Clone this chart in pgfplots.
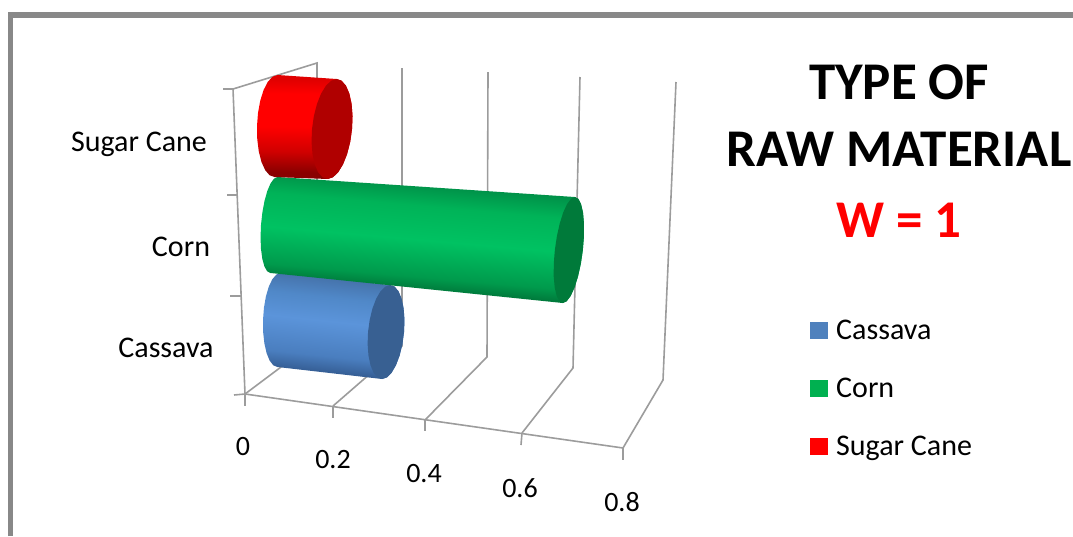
\documentclass[border=0pt]{standalone}
\usepackage{pgfplots}
\usepackage{pgfplotstable}
\usepackage{fontspec}
\setmainfont{Carlito}
\pgfplotsset{compat=1.18}
\definecolor{gridc}{HTML}{9C9C9C}
\definecolor{framec}{HTML}{888888}
\definecolor{ra}{HTML}{8A0000}\definecolor{rb}{HTML}{D00000}\definecolor{rc}{HTML}{FF0000}\definecolor{rd}{HTML}{E00000}
\definecolor{ga}{HTML}{00602E}\definecolor{gb}{HTML}{009A4C}\definecolor{gc}{HTML}{00C262}\definecolor{gd}{HTML}{00B358}\definecolor{ge}{HTML}{008A45}
\definecolor{ba}{HTML}{345C92}\definecolor{bb}{HTML}{4A7EBF}\definecolor{bc}{HTML}{5B94DA}\definecolor{bd}{HTML}{5088C8}\definecolor{be}{HTML}{4572AA}
\pgfdeclareverticalshading{cylred}{100bp}{
  color(0bp)=(ra);color(28bp)=(ra);color(38bp)=(rb);color(50bp)=(rc);color(66bp)=(rc);color(73bp)=(rd);color(100bp)=(rd)}
\pgfdeclareverticalshading{cylgreen}{100bp}{
  color(0bp)=(ga);color(29bp)=(ga);color(37bp)=(gb);color(50bp)=(gc);color(62bp)=(gd);color(71bp)=(ge);color(100bp)=(ge)}
\pgfdeclareverticalshading{cylblue}{100bp}{
  color(0bp)=(ba);color(28bp)=(ba);color(36bp)=(bb);color(52bp)=(bc);color(63bp)=(bd);color(72bp)=(be);color(100bp)=(be)}
% chart values
\pgfplotstableread{
row value
Cassava 0.24
Corn 0.63
Sugar 0.13
}\valtab
% outline of a cylinder: e = 0 at the base, 1 at the end; a, b run round the section
\pgfplotstableread{
e a b
0 -1 0
0 -.966 -.259
0 -.866 -.5
0 -.707 -.707
0 -.5 -.866
0 -.259 -.966
0 0 -1
0 .259 -.966
0 .5 -.866
0 .707 -.707
0 .866 -.5
0 .966 -.259
0 1 0
1 1 0
1 .966 .259
1 .866 .5
1 .707 .707
1 .5 .866
1 .259 .966
1 0 1
1 -.259 .966
1 -.5 .866
1 -.707 .707
1 -.866 .5
1 -.966 .259
1 -1 0
}\bodytab
\pgfplotstableread{
e a b
1 -1 0
1 -.966 .259
1 -.866 .5
1 -.707 .707
1 -.5 .866
1 -.259 .966
1 0 1
1 .259 .966
1 .5 .866
1 .707 .707
1 .866 .5
1 .966 .259
1 1 0
1 .966 -.259
1 .866 -.5
1 .707 -.707
1 .5 -.866
1 .259 -.966
1 0 -1
1 -.259 -.966
1 -.5 -.866
1 -.707 -.707
1 -.866 -.5
1 -.966 -.259
}\captab
\newcommand\X{\xL+\kx*\val*\thisrow{e}+\thisrow{b}*(\hwL+(\hwR-\hwL)*\thisrow{e})-\thisrow{a}*(\tlL+(\tlR-\tlL)*\thisrow{e})}
\newcommand\Y{\yL+\ky*\val*\thisrow{e}+\thisrow{a}*(\hhL+(\hhR-\hhL)*\thisrow{e})}
\newcommand\gl[1]{\addplot[gridc,line width=1.6pt,forget plot] coordinates {#1};}
% #1 row of values, #2 shading, #3 cap, #4 shading angle
\newcommand\cyl[4]{%
  \pgfplotstablegetelem{#1}{value}\of\valtab
  \let\val\pgfplotsretval
  \addplot[draw=none,shading=#2,shading angle=#4,forget plot]
    table[x expr=\X,y expr=\Y]{\bodytab} --cycle;
  \addplot[draw=none,fill=#3,forget plot]
    table[x expr=\X,y expr=\Y]{\captab} --cycle;
}
\newcommand\fs[1]{\fontsize{#1}{#1}\selectfont}
\begin{document}
\begin{tikzpicture}
\useasboundingbox (0,0) rectangle (1073pt,536pt);
\begin{axis}[
  scale only axis,width=1073pt,height=536pt,
  xmin=0,xmax=1073,ymin=0,ymax=536,y dir=reverse,
  axis lines=none,clip=false,
  legend style={draw=none,fill=none,at={(axis cs:810,320)},anchor=north west,
    font=\fs{30},row sep=37pt,inner sep=0pt,
    /tikz/every even column/.append style={column sep=0pt},
    nodes={inner sep=0pt}},
  legend cell align=left,
  legend image code/.code={\fill[#1,draw=none] (0pt,-8pt) rectangle (18pt,9pt);},
]
\addlegendimage{fill={rgb,255:red,79;green,129;blue,189}}
\addlegendentry{\hspace{8pt}Cassava}
\addlegendimage{fill={rgb,255:red,0;green,176;blue,80}}
\addlegendentry{\hspace{8pt}Corn}
\addlegendimage{fill=red}
\addlegendentry{\hspace{8pt}Sugar Cane}
% frame
\addplot[framec,line width=5.5pt,forget plot] coordinates {(10.3,536) (10.3,15) (1073,15)};
% walls, floor and ticks
\gl{(223,89) (233,89) (317,63) (317,340) (245,394)}
\gl{(233,89) (245,394)}
\gl{(227,195) (238,195)}
\gl{(230,296) (241,296)}
\gl{(234,395) (245,394) (623,448)}
\gl{(245,394) (245,406)}
\gl{(333,406) (333,418)}
\gl{(425,420) (425,431)}
\gl{(522,433) (521,445)}
\gl{(623,448) (623,460)}
\gl{(333,406) (402,346) (402,68)}
\gl{(425,420) (487,357) (488,72)}
\gl{(522,433) (573,368) (580,77)}
\gl{(623,448) (663,380) (676,82)}
% Cassava
\def\xL{279}\def\yL{320}\def\kx{446}\def\ky{50}
\def\hwL{16}\def\hwR{18}\def\hhL{47}\def\hhR{47}\def\tlL{1.5}\def\tlR{4}
\cyl{0}{cylblue}{{rgb,255:red,56;green,96;blue,146}}{-6}
% Corn
\def\xL{274}\def\yL{225}\def\kx{468}\def\ky{39.7}
\def\hwL{13}\def\hwR{14}\def\hhL{48}\def\hhR{53}\def\tlL{3.5}\def\tlR{6}
\cyl{1}{cylgreen}{{rgb,255:red,0;green,122;blue,58}}{-5}
% Sugar Cane
\def\xL{276}\def\yL{126}\def\kx{431}\def\ky{23}
\def\hwL{19}\def\hwR{20}\def\hhL{51}\def\hhR{50}\def\tlL{1.5}\def\tlR{4.5}
\cyl{2}{cylred}{{rgb,255:red,176;green,0;blue,0}}{-1}
% category labels
\node[font=\fs{30}] at (axis cs:139,144) {Sugar Cane};
\node[font=\fs{30}] at (axis cs:181,247) {Corn};
\node[font=\fs{30}] at (axis cs:166,348) {Cassava};
% value labels
\node[font=\fs{28}] at (axis cs:243,447) {0};
\node[font=\fs{28}] at (axis cs:333,460) {0.2};
\node[font=\fs{28}] at (axis cs:424,474) {0.4};
\node[font=\fs{28}] at (axis cs:520,488) {0.6};
\node[font=\fs{28}] at (axis cs:622,502) {0.8};
% title
\node[font=\fs{53}\bfseries,inner sep=0pt] at (axis cs:899,82) {TYPE OF};
\node[font=\fs{53}\bfseries,inner sep=0pt] at (axis cs:899,149) {RAW MATERIAL};
\node[font=\fs{53}\bfseries,text=red,inner sep=0pt] at (axis cs:899,220) {W = 1};
\end{axis}
\end{tikzpicture}
\end{document}
